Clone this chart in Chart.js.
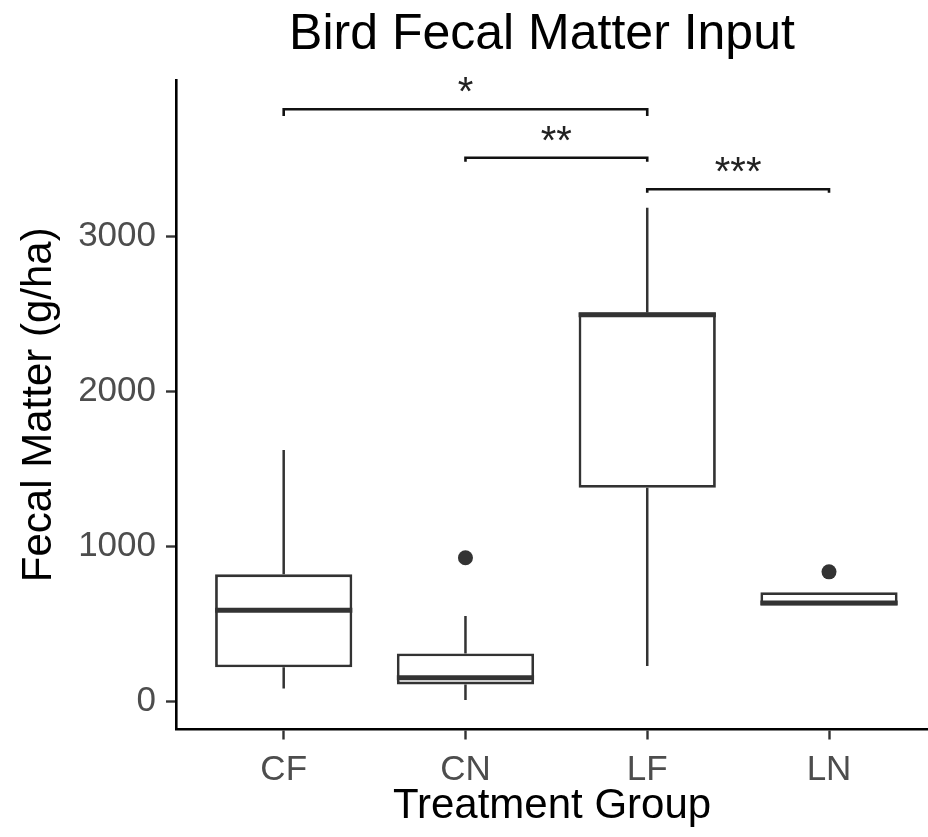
<!DOCTYPE html>
<html>
<head>
<meta charset="utf-8">
<script src="https://cdn.jsdelivr.net/npm/chart.js"></script>
<style>
  html, body { margin: 0; padding: 0; background: #fff; overflow: hidden; }
</style>
</head>
<body>
<canvas id="boxChart" width="928" height="837"></canvas>
<script>
// treatment groups and their box statistics (g/ha)
const groups = ['CF', 'CN', 'LF', 'LN'];
const whiskerLow = [85, 10, 229, 620];
const boxLow = [221, 111, 1379, 620];
const medians = [590, 154, 2495, 636];
const boxHigh = [821, 311, 2510, 705];
const whiskerHigh = [1623, 552, 3186, 705];

// points beyond the whiskers
const outlierGroup = ['CN', 'LN'];
const outlierValue = [928, 837];

const yTicks = [0, 1000, 2000, 3000];

// significance brackets between groups
const bracketFrom = ['CF', 'CN', 'LF'];
const bracketTo = ['LF', 'LF', 'LN'];
const bracketY = [3821, 3508, 3305];
const bracketTip = [3777, 3483, 3283];
const bracketLabel = ['*', '**', '***'];

const FONT = '"Liberation Sans", Arial, sans-serif';
const pos = g => groups.indexOf(g) + 1;

const boxPlotExtras = {
    id: 'boxPlotExtras',
    beforeDatasetsDraw(chart) {
        // whiskers sit under the boxes
        const {ctx, scales: {x, y}} = chart;
        ctx.save();
        ctx.strokeStyle = '#333333';
        ctx.lineWidth = 2.5;
        groups.forEach((g, i) => {
            const px = x.getPixelForValue(i + 1);
            ctx.beginPath();
            ctx.moveTo(px, y.getPixelForValue(boxHigh[i]));
            ctx.lineTo(px, y.getPixelForValue(whiskerHigh[i]));
            ctx.moveTo(px, y.getPixelForValue(boxLow[i]));
            ctx.lineTo(px, y.getPixelForValue(whiskerLow[i]));
            ctx.stroke();
        });
        ctx.restore();
    },
    afterDatasetsDraw(chart) {
        const {ctx, scales: {x, y}} = chart;
        const bars = chart.getDatasetMeta(0).data;
        ctx.save();
        // medians
        ctx.strokeStyle = '#333333';
        ctx.lineWidth = 5;
        bars.forEach((bar, i) => {
            const py = y.getPixelForValue(medians[i]);
            ctx.beginPath();
            ctx.moveTo(bar.x - bar.width / 2, py);
            ctx.lineTo(bar.x + bar.width / 2, py);
            ctx.stroke();
        });
        // brackets with stars
        ctx.strokeStyle = '#111111';
        ctx.lineWidth = 2.6;
        ctx.fillStyle = '#222222';
        ctx.font = '40px ' + FONT;
        ctx.textAlign = 'center';
        ctx.textBaseline = 'alphabetic';
        bracketLabel.forEach((lab, i) => {
            const x1 = x.getPixelForValue(pos(bracketFrom[i]));
            const x2 = x.getPixelForValue(pos(bracketTo[i]));
            const py = y.getPixelForValue(bracketY[i]);
            const pt = y.getPixelForValue(bracketTip[i]);
            ctx.beginPath();
            ctx.moveTo(x1, pt);
            ctx.lineTo(x1, py);
            ctx.lineTo(x2, py);
            ctx.lineTo(x2, pt);
            ctx.stroke();
            ctx.fillText(lab, (x1 + x2) / 2, py - 4);
        });
        ctx.restore();
    },
    afterDraw(chart) {
        const {ctx} = chart;
        ctx.save();
        ctx.fillStyle = '#000000';
        ctx.font = '50px ' + FONT;
        ctx.textAlign = 'center';
        ctx.textBaseline = 'alphabetic';
        ctx.fillText('Bird Fecal Matter Input', 542, 49);
        ctx.restore();
    }
};

new Chart(document.getElementById('boxChart').getContext('2d'), {
    type: 'bar',
    data: {
        datasets: [
            {
                label: 'IQR',
                data: groups.map((g, i) => ({x: i + 1, y: [boxLow[i], boxHigh[i]]})),
                backgroundColor: '#ffffff',
                borderColor: '#333333',
                borderWidth: 2.8,
                borderSkipped: false,
                barPercentage: 0.755,
                categoryPercentage: 1
            },
            {
                type: 'scatter',
                label: 'Outliers',
                data: outlierGroup.map((g, i) => ({x: pos(g), y: outlierValue[i]})),
                pointRadius: 7.5,
                pointBackgroundColor: '#333333',
                pointBorderWidth: 0,
                showLine: false
            }
        ]
    },
    options: {
        responsive: false,
        devicePixelRatio: 1,
        animation: false,
        layout: { autoPadding: false, padding: { top: 80, left: 0, right: 0, bottom: 0 } },
        plugins: { legend: { display: false }, tooltip: { enabled: false }, title: { display: false } },
        scales: {
            x: {
                type: 'linear',
                offset: false,
                min: 0.4075,
                max: 4.5446,
                afterBuildTicks: s => { s.ticks = groups.map((g, i) => ({value: i + 1})); },
                afterFit: s => { s.height = 107.5; s.paddingLeft = 0; s.paddingRight = 0; },
                ticks: {
                    autoSkip: false,
                    maxRotation: 0,
                    padding: 10,
                    color: '#4d4d4d',
                    font: { family: FONT, size: 35, lineHeight: 1.2 },
                    callback: (v, idx) => groups[idx]
                },
                grid: { offset: false, drawOnChartArea: false, drawTicks: true, tickLength: 10, tickWidth: 2.4, tickColor: '#333333' },
                border: { display: true, color: '#000000', width: 2.6 },
                title: {
                    display: true,
                    text: 'Treatment Group',
                    color: '#000000',
                    font: { family: FONT, size: 42, lineHeight: 1.2 },
                    padding: { top: 0, bottom: 5 }
                }
            },
            y: {
                min: -180,
                max: 4010,
                afterBuildTicks: s => { s.ticks = yTicks.map(v => ({value: v})); },
                afterFit: s => { s.width = 176; s.paddingTop = 0; s.paddingBottom = 0; },
                ticks: {
                    padding: 10,
                    color: '#4d4d4d',
                    font: { family: FONT, size: 35, lineHeight: 1.2 },
                    callback: v => String(v)
                },
                grid: { drawOnChartArea: false, drawTicks: true, tickLength: 10, tickWidth: 2.4, tickColor: '#333333' },
                border: { display: true, color: '#000000', width: 2.6 },
                title: {
                    display: true,
                    text: 'Fecal Matter (g/ha)',
                    color: '#000000',
                    font: { family: FONT, size: 42, lineHeight: 1.2 },
                    padding: { top: 14, bottom: 0 }
                }
            }
        }
    },
    plugins: [boxPlotExtras]
});
</script>
</body>
</html>
